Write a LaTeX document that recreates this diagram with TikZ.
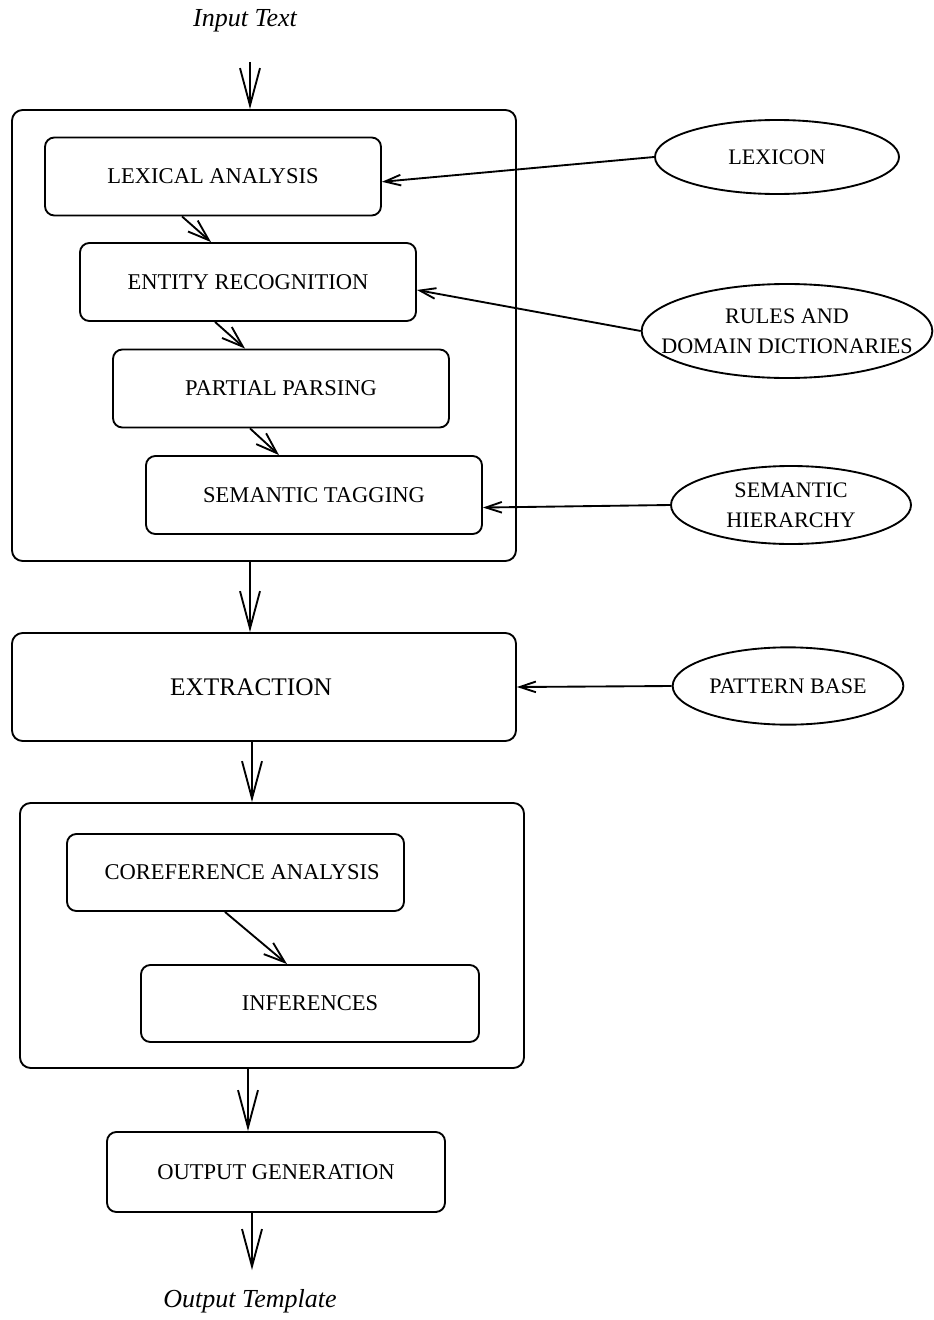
\documentclass[tikz,border=0pt]{standalone}
\usepackage{fontspec}
\setmainfont{Liberation Serif}
\usetikzlibrary{arrows.meta,shapes.geometric}
\begin{document}
\begin{tikzpicture}[x=0.75pt,y=-0.75pt,
  line width=1.4pt,
  box/.style={draw,rounded corners=7pt,minimum width=252pt,minimum height=58.5pt,inner sep=0pt,font=\fontsize{16.9}{20}\selectfont},
  frame/.style={draw,rounded corners=8pt,inner sep=0pt,minimum width=378pt},
  oval/.style={draw,ellipse,inner sep=0pt},
  ovaltext/.style={align=center,inner sep=0pt,font=\fontsize{16.6}{22.5}\selectfont},
  lbl/.style={font=\fontsize{19.5}{24}\selectfont\itshape},
  big/.style={-{Straight Barb[length=28pt,width=15pt]}},
  mid/.style={-{Straight Barb[length=16pt,width=11pt]}},
  side/.style={-{Straight Barb[length=12pt,width=8pt]}},
]
\useasboundingbox (0,0) rectangle (934,1320);

% frames
\node[frame,minimum height=338.25pt] (outer1) at (264,335.5) {};
\node[frame,minimum height=198.75pt] (outer3) at (272,935.5) {};

% labels
\node[lbl] (input) at (245,21) {Input Text};
\node[lbl] (template) at (250,1301) {Output Template};
\coordinate (instart) at (250,62);
\coordinate (tend) at (252,1270);

% boxes
\node[box] (lex) at (213,176.5) {LEXICAL ANALYSIS};
\node[box] (ent) at (248,282) {ENTITY RECOGNITION};
\node[box] (par) at (281,388.5) {PARTIAL PARSING};
\node[box] (sem) at (314,495) {SEMANTIC TAGGING};
\node[box,minimum width=378pt,minimum height=81pt,rounded corners=8pt,font=\fontsize{19}{23}\selectfont] (ext) at (264,687) {\hspace*{-19.5pt}EXTRACTION};
\node[box,minimum width=252.75pt,minimum height=57.75pt] (coref) at (235.5,872.5) {\hspace*{10pt}COREFERENCE ANALYSIS};
\node[box,minimum width=253.5pt,minimum height=57.75pt] (inf) at (310,1003.5) {INFERENCES};
\node[box,minimum width=253.5pt,minimum height=60pt] (outgen) at (276,1172) {OUTPUT GENERATION};

% ovals
\node[oval,minimum width=183pt,minimum height=55.5pt] (lexicon) at (777,157) {};
\node[ovaltext] (lexicontxt) at (lexicon) {LEXICON};
\node[oval,minimum width=218pt,minimum height=70.5pt] (rules) at (787,331) {};
\node[ovaltext] (rulestxt) at (rules) {RULES AND\\DOMAIN DICTIONARIES};
\node[oval,minimum width=180pt,minimum height=58.5pt] (semh) at (791,505) {};
\node[ovaltext] (semhtxt) at (semh) {SEMANTIC\\HIERARCHY};
\node[oval,minimum width=173pt,minimum height=58pt] (pat) at (788,686) {};
\node[ovaltext] (pattxt) at (pat) {PATTERN BASE};

% main flow
\draw[big] (instart) -- (instart |- outer1.north);
\draw[big] ([xshift=-10.5pt]outer1.south) -- ([xshift=-10.5pt]outer1.south |- ext.north);
\draw[big] ([xshift=-9pt]ext.south) -- ([xshift=-9pt]ext.south |- outer3.north);
\draw[big] ([xshift=-18pt]outer3.south) -- ([xshift=-18pt]outer3.south |- outgen.north);
\draw[big] ([xshift=-18pt]outgen.south) -- (tend);

% inner steps
\draw[mid] ([xshift=-23.25pt]lex.south) -- ([xshift=-27.75pt]ent.north);
\draw[mid] ([xshift=-24.75pt]ent.south) -- ([xshift=-27pt]par.north);
\draw[mid] ([xshift=-23.25pt]par.south) -- ([xshift=-26.25pt]sem.north);
\draw[mid] ([xshift=-7.9pt]coref.south) -- ([xshift=-17.25pt]inf.north);

% resources
\draw[side] (lexicon.west) -- ([yshift=-4pt]lex.east);
\draw[side] (rules.west) -- ([yshift=-6pt]ent.east);
\draw[side] (semh.west) -- ([yshift=-9.4pt]sem.east);
\draw[side] (pat.west) -- (ext.east);
\end{tikzpicture}
\end{document}
